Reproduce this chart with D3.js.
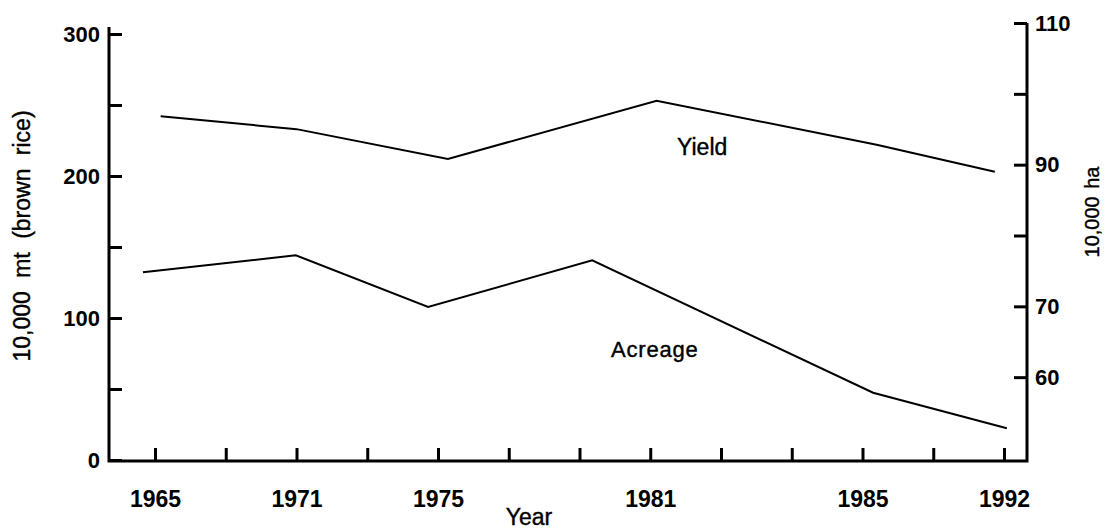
<!DOCTYPE html>
<html>
<head>
<meta charset="utf-8">
<script src="https://cdn.jsdelivr.net/npm/d3@7"></script>
<style>
  body { margin: 0; background: #fff; }
  svg { display: block; font-family: "Liberation Sans", Arial, sans-serif; }
  .tick text { font-weight: bold; font-size: 22px; fill: #000; }
  .tick line { stroke: #000; stroke-width: 3; }
  .lbl { fill: #000; stroke: #000; stroke-width: 0.4px; }
</style>
</head>
<body>
<svg width="1106" height="530"></svg>
<script>
// x axis is drawn in evenly spaced slots; only some slots carry a year label
var slotCount = 13;
var labelSlots = [0, 2, 4, 7, 10, 12];
var yearLabels = ['1965', '1971', '1975', '1981', '1985', '1992'];

// Yield, 10,000 mt (brown rice), left axis
var yieldSlots = [0.08, 2.0, 4.14, 7.09, 10.2, 11.87];
var yieldValues = [242, 233, 212, 253, 222, 203];

// Acreage, 10,000 ha, right axis
var acreageSlots = [-0.17, 1.99, 3.86, 6.18, 10.15, 12.04];
var acreageValues = [74.8, 77.2, 69.9, 76.5, 57.8, 52.8];

var leftTicks = [0, 50, 100, 150, 200, 250, 300];
var leftLabelled = [0, 100, 200, 300];
var rightTicks = [60, 70, 80, 90, 100, 110];
var rightLabelled = [60, 70, 90, 110];

var svg = d3.select('svg');

var baseY = 461,
  leftX = 109,
  rightX = 1027;

var x = d3.scaleLinear().domain([0, slotCount - 1]).range([155, 1004]);
var yL = d3.scaleLinear().domain([0, 300]).range([460, 34]);
var yR = d3.scaleLinear().domain([50, 110]).range([448, 23]);

// bottom axis
var xAxis = svg
  .append('g')
  .attr('transform', 'translate(0,' + baseY + ')')
  .call(
    d3
      .axisBottom(x)
      .tickValues(d3.range(slotCount))
      .tickSizeInner(-13)
      .tickSizeOuter(0)
      .tickPadding(30)
      .tickFormat(function (d) {
        var i = labelSlots.indexOf(d);
        return i < 0 ? '' : yearLabels[i];
      })
  );
xAxis.select('.domain').remove();
xAxis.selectAll('.tick text').style('font-size', '23px');

// left axis
var leftAxis = svg
  .append('g')
  .attr('transform', 'translate(' + leftX + ',0)')
  .call(
    d3
      .axisLeft(yL)
      .tickValues(leftTicks)
      .tickSizeInner(-13)
      .tickSizeOuter(0)
      .tickPadding(9)
      .tickFormat(function (d) {
        return leftLabelled.indexOf(d) < 0 ? '' : d;
      })
  );
leftAxis.select('.domain').remove();

// right axis
var rightAxis = svg
  .append('g')
  .attr('transform', 'translate(' + rightX + ',0)')
  .call(
    d3
      .axisRight(yR)
      .tickValues(rightTicks)
      .tickSizeInner(-13)
      .tickSizeOuter(0)
      .tickPadding(8)
      .tickFormat(function (d) {
        return rightLabelled.indexOf(d) < 0 ? '' : d;
      })
  );
rightAxis.select('.domain').remove();

// frame lines
svg
  .append('path')
  .attr('d', 'M' + leftX + ',27V' + baseY + 'H' + rightX + 'V' + yR(110))
  .attr('fill', 'none')
  .attr('stroke', '#000')
  .attr('stroke-width', 3);

// series
var line = d3
  .line()
  .x(function (d) {
    return x(d[0]);
  })
  .y(function (d) {
    return d[1];
  });

svg
  .append('path')
  .datum(
    yieldSlots.map(function (s, i) {
      return [s, yL(yieldValues[i])];
    })
  )
  .attr('d', line)
  .attr('fill', 'none')
  .attr('stroke', '#000')
  .attr('stroke-width', 2);

svg
  .append('path')
  .datum(
    acreageSlots.map(function (s, i) {
      return [s, yR(acreageValues[i])];
    })
  )
  .attr('d', line)
  .attr('fill', 'none')
  .attr('stroke', '#000')
  .attr('stroke-width', 2);

// series labels
svg
  .append('text')
  .attr('class', 'lbl')
  .attr('x', 677)
  .attr('y', 155)
  .style('font-size', '23px')
  .text('Yield');

svg
  .append('text')
  .attr('class', 'lbl')
  .attr('x', 611)
  .attr('y', 357)
  .style('font-size', '22px')
  .style('letter-spacing', '0.8px')
  .text('Acreage');

// axis titles
svg
  .append('text')
  .attr('class', 'lbl')
  .attr('x', 529)
  .attr('y', 525)
  .attr('text-anchor', 'middle')
  .style('font-size', '23px')
  .text('Year');

svg
  .append('text')
  .attr('class', 'lbl')
  .attr('transform', 'translate(30,236) rotate(-90)')
  .attr('text-anchor', 'middle')
  .style('font-size', '23px')
  .style('word-spacing', '7px')
  .text('10,000 mt (brown rice)');

svg
  .append('text')
  .attr('class', 'lbl')
  .attr('transform', 'translate(1099,212) rotate(-90)')
  .attr('text-anchor', 'middle')
  .style('font-size', '20px')
  .style('word-spacing', '2px')
  .text('10,000 ha');
</script>
</body>
</html>
